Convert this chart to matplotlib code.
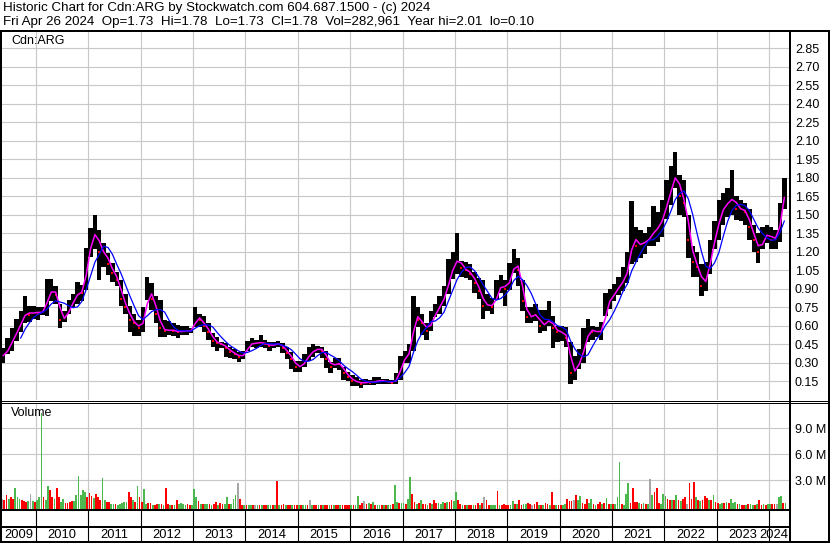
##  Historic price / volume chart for Cdn:ARG (Stockwatch style)

# LIBRARIES #
import numpy as np
import pandas as pd
import matplotlib
matplotlib.use("Agg")
import matplotlib.pyplot as plt

plt.rcParams['font.family'] = ['Liberation Sans', 'DejaVu Sans']


# DATA # (monthly high / low / close, May 2009 - Apr 2024)
first_year, first_month = 2009, 5

high_2009 = [0.42, 0.50, 0.58, 0.66, 0.72, 0.84, 0.76, 0.76]
low_2009  = [0.30, 0.37, 0.40, 0.48, 0.55, 0.62, 0.63, 0.66]
close_2009 = [0.36, 0.43, 0.50, 0.57, 0.65, 0.72, 0.69, 0.72]

high_2010 = [0.75, 0.75, 0.98, 0.98, 0.92, 0.78, 0.72, 0.81, 0.86, 0.96, 0.93, 1.23]
low_2010  = [0.65, 0.69, 0.68, 0.80, 0.78, 0.58, 0.63, 0.70, 0.75, 0.78, 0.80, 0.89]
close_2010 = [0.70, 0.72, 0.85, 0.90, 0.85, 0.65, 0.67, 0.75, 0.82, 0.88, 0.87, 1.15]

high_2011 = [1.39, 1.50, 1.38, 1.27, 1.19, 1.11, 1.04, 0.97, 0.86, 0.76, 0.70, 0.65]
low_2011  = [1.16, 1.22, 0.97, 1.08, 1.01, 0.96, 0.92, 0.76, 0.70, 0.55, 0.52, 0.52]
close_2011 = [1.30, 1.38, 1.20, 1.20, 1.10, 1.03, 0.97, 0.82, 0.75, 0.65, 0.62, 0.58]

high_2012 = [0.75, 1.00, 0.95, 0.84, 0.81, 0.65, 0.64, 0.62, 0.61, 0.60, 0.60, 0.58]
low_2012  = [0.55, 0.81, 0.73, 0.62, 0.51, 0.51, 0.53, 0.52, 0.50, 0.53, 0.53, 0.54]
close_2012 = [0.66, 0.90, 0.82, 0.70, 0.58, 0.56, 0.57, 0.56, 0.55, 0.56, 0.56, 0.56]

high_2013 = [0.75, 0.70, 0.68, 0.62, 0.54, 0.51, 0.47, 0.46, 0.43, 0.41, 0.39, 0.40]
low_2013  = [0.59, 0.59, 0.55, 0.49, 0.43, 0.40, 0.42, 0.35, 0.34, 0.33, 0.31, 0.33]
close_2013 = [0.68, 0.65, 0.60, 0.55, 0.48, 0.46, 0.45, 0.42, 0.39, 0.37, 0.35, 0.37]

high_2014 = [0.48, 0.50, 0.49, 0.53, 0.49, 0.47, 0.47, 0.48, 0.46, 0.43, 0.39, 0.32]
low_2014  = [0.40, 0.43, 0.42, 0.43, 0.42, 0.40, 0.42, 0.43, 0.38, 0.33, 0.25, 0.23]
close_2014 = [0.45, 0.46, 0.46, 0.47, 0.45, 0.44, 0.45, 0.46, 0.42, 0.38, 0.33, 0.27]

high_2015 = [0.32, 0.37, 0.43, 0.45, 0.44, 0.43, 0.40, 0.31, 0.34, 0.34, 0.27, 0.23]
low_2015  = [0.23, 0.27, 0.32, 0.35, 0.38, 0.34, 0.26, 0.22, 0.26, 0.24, 0.16, 0.15]
close_2015 = [0.27, 0.32, 0.38, 0.40, 0.42, 0.40, 0.33, 0.27, 0.30, 0.29, 0.22, 0.19]

high_2016 = [0.20, 0.19, 0.16, 0.17, 0.16, 0.19, 0.19, 0.17, 0.17, 0.16, 0.22, 0.36]
low_2016  = [0.11, 0.11, 0.10, 0.12, 0.12, 0.12, 0.13, 0.13, 0.13, 0.13, 0.13, 0.16]
close_2016 = [0.15, 0.15, 0.13, 0.15, 0.14, 0.15, 0.16, 0.15, 0.15, 0.14, 0.17, 0.30]

high_2017 = [0.40, 0.45, 0.84, 0.75, 0.70, 0.62, 0.72, 0.78, 0.84, 0.92, 1.14, 1.20]
low_2017  = [0.30, 0.30, 0.40, 0.59, 0.53, 0.49, 0.56, 0.67, 0.70, 0.76, 0.86, 0.98]
close_2017 = [0.35, 0.40, 0.70, 0.65, 0.62, 0.56, 0.65, 0.72, 0.78, 0.85, 1.00, 1.10]

high_2018 = [1.35, 1.13, 1.12, 1.10, 1.04, 0.99, 0.97, 0.86, 0.83, 0.97, 1.01, 0.97]
low_2018  = [1.02, 1.00, 0.99, 0.97, 0.87, 0.82, 0.66, 0.72, 0.70, 0.81, 0.87, 0.76]
close_2018 = [1.15, 1.07, 1.05, 1.02, 0.95, 0.88, 0.76, 0.78, 0.75, 0.88, 0.94, 0.90]

high_2019 = [1.11, 1.22, 1.15, 0.97, 0.75, 0.75, 0.78, 0.73, 0.73, 0.80, 0.68, 0.60]
low_2019  = [0.89, 1.03, 0.92, 0.72, 0.62, 0.62, 0.64, 0.54, 0.56, 0.60, 0.42, 0.47]
close_2019 = [1.00, 1.12, 1.05, 0.80, 0.67, 0.68, 0.70, 0.60, 0.62, 0.66, 0.58, 0.55]

high_2020 = [0.60, 0.59, 0.47, 0.36, 0.41, 0.58, 0.66, 0.60, 0.59, 0.63, 0.87, 0.90]
low_2020  = [0.48, 0.43, 0.13, 0.16, 0.25, 0.30, 0.47, 0.49, 0.51, 0.49, 0.68, 0.74]
close_2020 = [0.55, 0.50, 0.22, 0.25, 0.33, 0.45, 0.58, 0.55, 0.56, 0.55, 0.78, 0.82]

high_2021 = [0.94, 1.00, 1.08, 1.20, 1.61, 1.40, 1.38, 1.35, 1.40, 1.57, 1.52, 1.62]
low_2021  = [0.80, 0.85, 0.88, 0.95, 1.10, 1.12, 1.15, 1.18, 1.25, 1.25, 1.28, 1.32]
close_2021 = [0.88, 0.93, 0.98, 1.08, 1.35, 1.25, 1.27, 1.28, 1.32, 1.38, 1.40, 1.50]

high_2022 = [1.78, 1.90, 2.01, 1.82, 1.78, 1.50, 1.25, 1.20, 1.10, 1.12, 1.30, 1.45]
low_2022  = [1.47, 1.58, 1.72, 1.50, 1.48, 1.15, 1.00, 1.00, 0.84, 0.88, 1.02, 1.22]
close_2022 = [1.62, 1.75, 1.85, 1.65, 1.60, 1.30, 1.12, 1.08, 0.92, 1.00, 1.20, 1.35]

high_2023 = [1.62, 1.68, 1.72, 1.86, 1.65, 1.62, 1.60, 1.55, 1.42, 1.35, 1.40, 1.42]
low_2023  = [1.30, 1.42, 1.48, 1.50, 1.46, 1.45, 1.42, 1.30, 1.20, 1.11, 1.22, 1.27]
close_2023 = [1.50, 1.58, 1.60, 1.65, 1.55, 1.55, 1.52, 1.40, 1.30, 1.20, 1.32, 1.35]

high_2024 = [1.40, 1.38, 1.60, 1.80]
low_2024  = [1.22, 1.22, 1.28, 1.55]
close_2024 = [1.30, 1.32, 1.50, 1.78]

# volume (millions), half-month peaks, with up (G) / down (R) / unchanged (N) colour
vol_2009 = [0.9, 0.7, 1.3, 0.8, 1.1, 0.9, 2.1, 1.1, 0.9, 0.7, 0.6, 0.5, 0.6, 1.4, 0.6, 0.5]
dir_2009 = "NRRGRRGGGRRRGNGR"
vol_2010 = [0.7, 1.1, 10.8, 1.1, 0.7, 2.3, 1.9, 1.1, 0.8, 2.1, 1.1, 0.5, 0.9, 0.35, 0.4, 0.55,
            0.6, 0.6, 1.3, 3.5, 1.3, 1.9, 1.7, 1.1]
dir_2010 = "GGGRGGRRGRRGGRRRRGGGGGGR"
vol_2011 = [1.5, 1.2, 1.0, 1.4, 1.1, 0.7, 3.3, 0.7, 0.55, 0.5, 0.25, 0.3, 0.25, 0.2, 0.3, 0.35,
            0.55, 0.55, 1.7, 1.1, 0.7, 0.5, 2.3, 1.1]
dir_2011 = "RRGRRRGGRRGGRGGGGGRRGRGR"
vol_2012 = [0.5, 2.0, 0.3, 0.4, 0.4, 0.2, 0.2, 0.3, 0.25, 0.3, 0.2, 2.1, 0.25, 0.2, 0.2, 0.2,
            0.75, 0.3, 0.35, 0.3, 0.2, 0.3, 0.15, 0.2]
dir_2012 = "RGGRRGRRGRGRRGRGRGGGGRRG"
vol_2013 = [2.0, 1.1, 0.6, 0.3, 0.3, 0.25, 0.3, 0.3, 0.2, 0.25, 0.55, 0.2, 0.35, 0.25, 0.3, 1.1,
            0.3, 0.3, 0.9, 1.3, 2.65, 0.8, 0.1, 0.1]
dir_2013 = "GGRGRGGRGRRGRRGGRGGGNRRG"
vol_2014 = [0.15, 0.1, 0.12, 0.1, 0.15, 0.1, 0.15, 0.12, 0.1, 0.12, 0.15, 0.1, 0.12, 0.15, 2.9, 0.12,
            0.2, 0.25, 0.15, 0.1, 0.15, 0.1, 0.2, 0.15]
dir_2014 = "RGGRNGRGRRGGRGRGRRGRRGRR"
vol_2015 = [0.1, 0.15, 0.2, 0.1, 0.15, 0.7, 0.2, 0.1, 0.15, 0.1, 0.12, 0.1, 0.15, 0.1, 0.12, 0.1,
            0.15, 0.1, 0.12, 0.15, 0.1, 0.15, 0.2, 0.15]
dir_2015 = "GRGGRNGRRGRGRRGRGRRGRRRR"
vol_2016 = [0.2, 0.15, 0.2, 1.2, 0.2, 0.35, 0.6, 0.3, 0.35, 0.3, 0.5, 0.2, 0.1, 0.1, 0.15, 0.1,
            0.1, 0.15, 0.2, 0.3, 2.5, 0.5, 0.4, 0.4]
dir_2016 = "GRGGRRNRGRGRGGRGRGGRGGRG"
vol_2017 = [0.35, 0.3, 0.85, 3.35, 1.4, 0.5, 0.3, 0.35, 0.7, 0.3, 0.3, 0.2, 0.35, 0.3, 0.75, 0.35,
            0.35, 0.3, 0.55, 0.4, 0.55, 0.55, 0.7, 0.6]
dir_2017 = "GRGGRRGRGRRGRGRRGGGRGRRG"
vol_2018 = [1.6, 0.7, 0.3, 0.15, 0.2, 0.1, 0.15, 0.2, 0.1, 0.15, 0.35, 0.2, 0.35, 1.1, 0.75, 0.2,
            0.1, 0.15, 0.15, 1.75, 0.1, 0.15, 0.25, 0.2]
dir_2018 = "GRRGRGRRGRRGRNRRGGGRGRRR"
vol_2019 = [0.15, 0.1, 0.6, 0.25, 0.25, 0.75, 0.2, 0.3, 0.3, 0.35, 0.3, 0.2, 0.25, 0.55, 0.15, 0.15,
            0.2, 0.35, 0.3, 0.2, 1.65, 0.2, 0.15, 0.15]
dir_2019 = "RGGRGRRGGRRNRRGRGRRGRRGR"
vol_2020 = [0.15, 0.2, 0.3, 0.85, 0.65, 0.6, 0.75, 1.3, 0.75, 1.2, 0.35, 0.3, 0.85, 0.4, 0.85, 0.3,
            0.2, 0.3, 0.55, 0.3, 0.35, 0.95, 0.25, 0.3]
dir_2020 = "RGGRRRNRGGRRRGGRGRRGRGRG"
vol_2021 = [0.3, 0.25, 1.1, 5.1, 0.3, 0.2, 1.4, 2.7, 0.35, 2.15, 0.55, 0.5, 0.35, 0.3, 0.35, 0.25,
            0.3, 3.15, 1.25, 1.7, 2.1, 0.35, 0.3, 1.4]
dir_2021 = "RGGGRGGGRRRRGRGRGNGRRRGG"
vol_2022 = [1.2, 0.9, 0.75, 0.75, 0.75, 1.25, 0.75, 0.6, 0.9, 1.05, 0.3, 2.7, 0.8, 2.8, 1.05, 0.7,
            0.6, 0.75, 1.15, 1.0, 0.7, 0.75, 1.3, 0.55]
dir_2022 = "GRRGRGRGRRNRRRGRGRRRGRGR"
vol_2023 = [0.35, 0.3, 0.4, 0.4, 0.45, 0.35, 0.8, 0.35, 0.5, 0.3, 0.25, 0.2, 0.15, 0.2, 0.3, 0.25,
            0.2, 0.15, 0.3, 0.75, 0.2, 0.25, 0.2, 0.3]
dir_2023 = "RGGRGRGGGRGRRGRGGRGRRGRG"
vol_2024 = [0.25, 0.3, 0.3, 0.25, 1.1, 1.15, 0.35, 0.4]
dir_2024 = "GRRNGGRG"

price_ticks = [0.15, 0.30, 0.45, 0.60, 0.75, 0.90, 1.05, 1.20, 1.35, 1.50, 1.65, 1.80, 1.95,
               2.10, 2.25, 2.40, 2.55, 2.70, 2.85]
volume_ticks = [3.0, 6.0, 9.0]
volume_tick_labels = ["3.0 M", "6.0 M", "9.0 M"]
year_labels = list(range(2009, 2025))

header_1 = "Historic Chart for Cdn:ARG by Stockwatch.com 604.687.1500 - (c) 2024"
header_2 = "Fri Apr 26 2024  Op=1.73  Hi=1.78  Lo=1.73  Cl=1.78  Vol=282,961  Year hi=2.01  lo=0.10"


# ASSEMBLE #
years = range(2009, 2025)
highs = np.array(sum([globals()[f"high_{y}"] for y in years], []))
lows = np.array(sum([globals()[f"low_{y}"] for y in years], []))
closes = pd.Series(sum([globals()[f"close_{y}"] for y in years], []))
vols = np.array(sum([globals()[f"vol_{y}"] for y in years], []))
dirs = "".join(globals()[f"dir_{y}"] for y in years)

t_month = first_year + (first_month - 1 + np.arange(len(highs)) + 0.5) / 12
t_half = first_year + (2*(first_month - 1) + np.arange(len(vols)) + 0.5) / 24

ma_fast = closes.rolling(2, min_periods=1).mean()
ma_slow = closes.rolling(5).mean()
down = np.r_[False, np.diff(closes.values) < 0]

col_map = {"G": "#4db84d", "R": "#ff0000", "N": "#a6a6a6"}
vol_colors = [col_map[c] for c in dirs]


# FIGURE #
W, H = 830, 543
fig = plt.figure(figsize=(W/100, H/100), dpi=100, facecolor='white')

def box(left, top, right, bottom):
    return [left/W, 1 - bottom/H, (right - left)/W, (bottom - top)/H]

X0, X1 = 2009.351, 2024.381
grid_col = '#c8c8c8'
year_lines = list(range(2010, 2025))

# price panel
ax_p = fig.add_axes(box(2, 31, 789, 400))
ax_p.bar(t_month, highs - lows, bottom=lows, width=1.0/12, color='black', lw=0, zorder=2)
ax_p.plot(t_month[down], closes.values[down], 's', ms=1.6, color='#ff0000', mew=0, zorder=3)
ax_p.plot(t_month, ma_fast, color='#ff00ff', lw=1.1, zorder=4)
ax_p.plot(t_month, ma_slow, color='#0000ff', lw=0.9, zorder=5)
ax_p.set_xlim(X0, X1)
ax_p.set_ylim(0, 2.99)
ax_p.set_xticks(year_lines)
ax_p.set_xticklabels([])
ax_p.set_yticks(price_ticks)
ax_p.set_yticklabels([f"{v:.2f}" for v in price_ticks])
ax_p.yaxis.tick_right()
ax_p.tick_params(length=0, labelsize=9, pad=4.3)
ax_p.grid(color=grid_col, lw=0.8, zorder=0)
ax_p.text(9/787, 1 - 10/369, "Cdn:ARG", transform=ax_p.transAxes, fontsize=9, va='center')

# volume panel
vol_floor = -0.31
ax_v = fig.add_axes(box(2, 403, 789, 509))
ax_v.bar(t_half, vols - vol_floor, bottom=vol_floor, width=0.8/24, color=vol_colors, zorder=2)
ax_v.set_xlim(X0, X1)
ax_v.set_ylim(vol_floor, 11.92)
ax_v.set_xticks(year_lines)
ax_v.set_xticklabels([])
ax_v.set_yticks(volume_ticks)
ax_v.set_yticklabels(volume_tick_labels)
ax_v.yaxis.tick_right()
ax_v.tick_params(length=0, labelsize=9, pad=4.3)
ax_v.grid(color=grid_col, lw=0.8, zorder=0)
ax_v.text(9/787, 1 - 10/106, "Volume", transform=ax_v.transAxes, fontsize=9, va='center')

# year strip
ax_y = fig.add_axes(box(2, 509, 789, 541))
ax_y.set_xlim(X0, X1)
ax_y.set_ylim(0, 1)
ax_y.vlines(year_lines, 0, 1, color='black', lw=0.8)
for y in year_labels:
    if y == 2009:
        ax_y.text((X0 + 2010)/2, 0.2, str(y), ha='center', va='center', fontsize=9.3)
    elif y == 2024:
        ax_y.text(X1 - 0.01, 0.2, str(y), ha='right', va='center', fontsize=9.3)
    else:
        ax_y.text(y + 0.5, 0.2, str(y), ha='center', va='center', fontsize=9.3)
ax_y.axis('off')

for ax in (ax_p, ax_v):
    for s in ax.spines.values():
        s.set_visible(False)

# frame lines (pixel coordinates)
ax_f = fig.add_axes([0, 0, 1, 1], zorder=10)
ax_f.set_xlim(0, W)
ax_f.set_ylim(H, 0)
ax_f.axis('off')
ax_f.patch.set_alpha(0)
frame = [
    ((0, W), (31, 31), 2),
    ((1, 1), (31, 542), 2),
    ((789.5, 789.5), (31, 542), 2),
    ((828.5, 828.5), (31, 542), 2),
    ((0, W), (400.5, 400.5), 1),
    ((0, W), (402.5, 402.5), 1),
    ((0, 790), (510, 510), 2),
    ((0, 790), (526.5, 526.5), 2),
    ((0, W), (541.5, 541.5), 2),
]
for xs, ys, px in frame:
    ax_f.plot(xs, ys, color='black', lw=px*0.72, solid_capstyle='butt')

fig.text(3/W, 1 - 8/H, header_1, fontsize=9.6, va='center')
fig.text(3/W, 1 - 22.5/H, header_2, fontsize=9.6, va='center')

fig.savefig("out.png", dpi=100, facecolor='white')
